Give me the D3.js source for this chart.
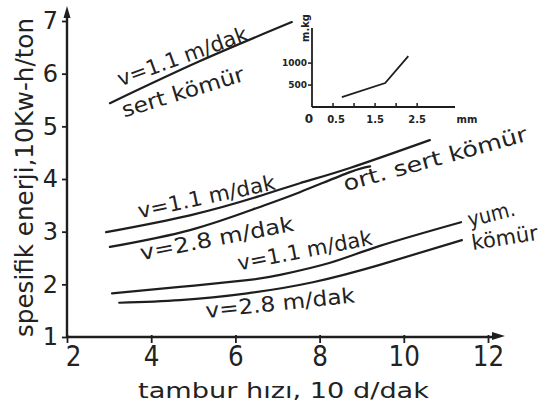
<!DOCTYPE html>
<html>
<head>
<meta charset="utf-8">
<script src="https://cdn.jsdelivr.net/npm/d3@7"></script>
<style>
  body { margin: 0; background: #fff; }
  svg text { font-family: "DejaVu Sans", sans-serif; fill: #222; }
</style>
</head>
<body>
<div id="container"></div>
<script>
/* CONSTANTS AND GLOBALS */
const width = 543,
  height = 409;

/* DATA */
const xTicks = [2, 4, 6, 8, 10, 12];
const yTicks = [1, 2, 3, 4, 5, 6, 7];

// sert kömür, v=1.1 m/dak
const sertV11 = [[3.02, 5.44], [5.16, 6.24], [7.34, 6.98]];
// ort. sert kömür
const ortV11 = [[2.93, 2.99], [4.92, 3.31], [6.51, 3.66], [7.53, 3.92], [8.72, 4.21], [10.62, 4.74]];
const ortV28 = [[3.02, 2.71], [4.92, 3.03], [6.51, 3.45], [7.53, 3.75], [8.72, 4.13], [9.2, 4.24]];
// yum. kömür
const yumV11 = [[3.07, 1.83], [4.68, 1.95], [6.28, 2.08], [7.06, 2.18], [8.25, 2.41], [9.43, 2.73], [11.36, 3.18]];
const yumV28 = [[3.24, 1.65], [4.68, 1.7], [6.28, 1.83], [7.84, 2.04], [9.43, 2.37], [11.38, 2.84]];

// small inset chart
const insetX = [0.71, 1.74, 2.29];
const insetY = [227, 545, 1159];
const insetXTicks = [0.5, 1, 1.5, 2, 2.5];
const insetXLabels = ["0", "0.5", "1.5", "2.5", "mm"];
const insetYTicks = [500, 1000];

const svg = d3.select("#container")
  .append("svg")
  .attr("width", width)
  .attr("height", height);

const ink = "#1e1e1e";

// SCALES
const x = d3.scaleLinear().domain([2, 12]).range([67, 488]);
const y = d3.scaleLinear().domain([1, 7]).range([337, 21]);

// AXES - lines by hand so they can run past the range with arrows
svg.append("line")
  .attr("x1", x(2)).attr("x2", 496)
  .attr("y1", y(1)).attr("y2", y(1))
  .attr("stroke", ink).attr("stroke-width", 2.4);
svg.append("path")
  .attr("d", `M505,${y(1) - 1}L492,${y(1) - 5}L492,${y(1) + 3}Z`)
  .attr("fill", ink);

svg.append("line")
  .attr("x1", x(2)).attr("x2", x(2))
  .attr("y1", y(1)).attr("y2", 14)
  .attr("stroke", ink).attr("stroke-width", 2.4);
svg.append("path")
  .attr("d", `M${x(2)},6L${x(2) - 3.5},18L${x(2) + 3.5},18Z`)
  .attr("fill", ink);

const xAxis = svg.append("g")
  .attr("transform", `translate(0,${y(1)})`)
  .call(d3.axisBottom(x).tickValues(xTicks).tickSize(6).tickSizeOuter(0).tickPadding(2));
const yAxis = svg.append("g")
  .attr("transform", `translate(${x(2)},0)`)
  .call(d3.axisLeft(y).tickValues(yTicks).tickFormat(d3.format("d"))
    .tickSize(5).tickSizeOuter(0).tickPadding(4));

[xAxis, yAxis].forEach(g => {
  g.select(".domain").remove();
  g.selectAll(".tick line").attr("stroke", ink).attr("stroke-width", 1.8);
  g.selectAll(".tick text")
    .attr("font-family", "DejaVu Sans, sans-serif")
    .attr("fill", ink);
});
yAxis.selectAll(".tick text").attr("font-size", 24);
xAxis.selectAll(".tick line").attr("y1", -2);
xAxis.selectAll(".tick text")
  .attr("font-size", 29)
  .attr("transform", d => `translate(${d === 2 ? 6 : 0},0) scale(0.85,1)`);

// axis titles
svg.append("text")
  .attr("x", 138).attr("y", 398)
  .attr("font-size", 21)
  .attr("textLength", 291)
  .attr("lengthAdjust", "spacingAndGlyphs")
  .text("tambur hızı, 10 d/dak");

svg.append("text")
  .attr("transform", "translate(33,337) rotate(-90)")
  .attr("font-size", 24)
  .attr("textLength", 319)
  .attr("lengthAdjust", "spacingAndGlyphs")
  .text("spesifik enerji,10Kw-h/ton");

// CURVES
const line = d3.line()
  .x(d => x(d[0]))
  .y(d => y(d[1]))
  .curve(d3.curveNatural);

svg.selectAll("path.curve")
  .data([sertV11, ortV11, ortV28, yumV11, yumV28])
  .join("path")
  .attr("class", "curve")
  .attr("d", line)
  .attr("fill", "none")
  .attr("stroke", ink)
  .attr("stroke-width", 2.2)
  .attr("stroke-linecap", "round");

// CURVE LABELS (baseline centre in data units, angle, length in px)
const labels = [
  { t: "v=1.1 m/dak", x: 4.8, y: 6.2, a: -20, len: 137 },
  { t: "sert kömür", x: 4.8, y: 5.52, a: -17, len: 127 },
  { t: "v=1.1 m/dak", x: 5.35, y: 3.53, a: -12, len: 140 },
  { t: "v=2.8 m/dak", x: 5.59, y: 2.74, a: -11, len: 156 },
  { t: "ort. sert kömür", x: 10.79, y: 4.25, a: -15.5, len: 190 },
  { t: "v=1.1 m/dak", x: 7.68, y: 2.51, a: -11, len: 137 },
  { t: "v=2.8 m/dak", x: 7.08, y: 1.51, a: -6, len: 150 },
  { t: "yum.", x: 12.12, y: 3.2, a: -14, len: 48 }
];

svg.selectAll("text.lbl")
  .data(labels)
  .join("text")
  .attr("class", "lbl")
  .attr("font-size", 21)
  .attr("text-anchor", "middle")
  .attr("textLength", d => d.len)
  .attr("lengthAdjust", "spacingAndGlyphs")
  .attr("transform", d => `translate(${x(d.x)},${y(d.y)}) rotate(${d.a})`)
  .text(d => d.t);

// "kömür" runs off the right edge in the picture
svg.append("text")
  .attr("font-size", 21)
  .attr("transform", `translate(${x(11.64)},${y(2.65)}) rotate(-9)`)
  .text("kömür");

// INSET
const ix = d3.scaleLinear().domain([0, 3.4]).range([312, 455]);
const iy = d3.scaleLinear().domain([0, 1800]).range([107, 28]);

const inset = svg.append("g");
inset.append("line")
  .attr("x1", ix(0)).attr("x2", ix(0)).attr("y1", iy(0)).attr("y2", iy(1800))
  .attr("stroke", ink).attr("stroke-width", 1.8);
inset.append("line")
  .attr("x1", ix(0)).attr("x2", ix(3.4)).attr("y1", iy(0)).attr("y2", iy(0))
  .attr("stroke", ink).attr("stroke-width", 1.8);

inset.selectAll("line.ixt")
  .data(insetXTicks)
  .join("line")
  .attr("class", "ixt")
  .attr("x1", d => ix(d)).attr("x2", d => ix(d))
  .attr("y1", iy(0)).attr("y2", iy(0) - 4)
  .attr("stroke", ink).attr("stroke-width", 1.5);

inset.selectAll("line.iyt")
  .data(insetYTicks)
  .join("line")
  .attr("class", "iyt")
  .attr("x1", ix(0)).attr("x2", ix(0) - 4)
  .attr("y1", d => iy(d)).attr("y2", d => iy(d))
  .attr("stroke", ink).attr("stroke-width", 1.5);

inset.selectAll("text.iyl")
  .data(insetYTicks)
  .join("text")
  .attr("class", "iyl")
  .attr("x", ix(0) - 5)
  .attr("y", d => iy(d))
  .attr("text-anchor", "end")
  .attr("dominant-baseline", "central")
  .attr("font-size", 9)
  .attr("font-weight", "bold")
  .text(d => d);

inset.selectAll("text.ixl")
  .data(insetXLabels)
  .join("text")
  .attr("class", "ixl")
  .attr("x", (d, i) => [309, ix(0.5) + 3, ix(1.5), ix(2.5), 467][i])
  .attr("y", 119)
  .attr("text-anchor", "middle")
  .attr("dominant-baseline", "central")
  .attr("font-size", (d, i) => i === 0 ? 12 : 10)
  .attr("font-weight", "bold")
  .text(d => d);

inset.append("text")
  .attr("transform", "translate(305,28) rotate(-90)")
  .attr("text-anchor", "middle")
  .attr("dominant-baseline", "central")
  .attr("font-size", 10)
  .attr("font-weight", "bold")
  .text("m.kg");

inset.append("path")
  .datum(d3.zip(insetX, insetY))
  .attr("d", d3.line().x(d => ix(d[0])).y(d => iy(d[1])))
  .attr("fill", "none")
  .attr("stroke", ink)
  .attr("stroke-width", 1.8);
</script>
</body>
</html>
